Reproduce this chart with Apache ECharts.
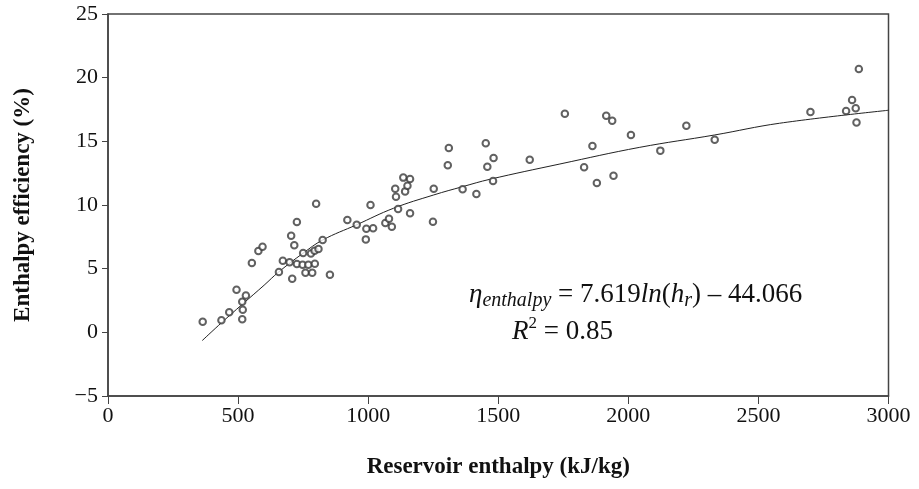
<!DOCTYPE html>
<html>
<head>
<meta charset="utf-8">
<script src="https://cdn.jsdelivr.net/npm/echarts@6/dist/echarts.min.js"></script>
<style>html,body{margin:0;padding:0;background:#fff;}#c{width:919px;height:489px;}</style>
</head>
<body>
<div id="c"></div>
<script>
// Measured data points: reservoir enthalpy (kJ/kg)
const enthalpy = [364,436,466,494,516,518,516,530,553,578,594,
  657,672,698,704,708,716,726,726,748,750,759,770,780,785,794,795,800,809,825,853,
  920,956,991,993,1009,1019,1066,1080,1091,1104,1107,1115,1135,1142,1151,1161,1161,1249,1252,1306,1310,1363,1416,1452,1458,1482,1480,
  1621,1756,1830,1862,1879,1915,1938,1943,2010,2123,2223,2332,2700,2837,2860,2874,2877,2886];
// Enthalpy efficiency (%)
const efficiency = [0.83,0.94,1.57,3.35,1.02,1.78,2.4,2.9,5.44,6.39,6.73,
  4.74,5.63,5.5,7.59,4.2,6.83,8.66,5.37,5.31,6.23,4.68,5.31,6.2,4.68,6.41,5.39,10.1,6.54,7.25,4.53,
  8.82,8.45,7.3,8.14,10.0,8.17,8.59,8.92,8.3,11.28,10.65,9.69,12.15,11.07,11.52,12.04,9.35,8.69,11.28,13.12,14.48,11.23,10.86,14.85,13.0,13.69,11.89,
  13.56,17.17,12.96,14.63,11.73,17.0,16.62,12.3,15.5,14.27,16.23,15.13,17.31,17.38,18.25,17.6,16.47,20.68];
// Trend curve
const trendX = [362,436,516,600,656,749,825,956,1097,1252,1363,1468,1737,2044,2332,2581,3000];
const trendY = [-0.65,0.75,2.2,3.7,4.74,6.2,7.25,8.45,9.74,10.79,11.44,12.02,13.22,14.53,15.5,16.42,17.44];
const xTicks = [0,500,1000,1500,2000,2500,3000];
const yTicks = [-5,0,5,10,15,20,25];

const FONT = 'Liberation Serif';
const chart = echarts.init(document.getElementById('c'));
const scatterData = enthalpy.map((x,i)=>[x, efficiency[i]]);
const lineData = trendX.map((x,i)=>[x, trendY[i]]);
chart.setOption({
  animation:false,
  backgroundColor:'#fff',
  grid:{left:108,right:30.5,top:14,bottom:93,show:true,borderColor:'#444',borderWidth:1.5,backgroundColor:'transparent'},
  xAxis:{type:'value',min:xTicks[0],max:xTicks[xTicks.length-1],interval:500,
    name:'Reservoir enthalpy (kJ/kg)',nameLocation:'middle',nameGap:60,
    nameTextStyle:{fontFamily:FONT,fontSize:23,fontWeight:'bold',color:'#111'},
    axisLine:{show:true,onZero:false,lineStyle:{color:'#444',width:1.5}},
    axisTick:{show:true,inside:false,length:8,lineStyle:{color:'#444',width:1}},
    axisLabel:{fontFamily:FONT,fontSize:22,color:'#111',margin:9,formatter:v=>String(v)},
    splitLine:{show:false}},
  yAxis:{type:'value',min:yTicks[0],max:yTicks[yTicks.length-1],interval:5,
    name:'Enthalpy efficiency (%)',nameLocation:'middle',nameGap:73,
    nameTextStyle:{fontFamily:FONT,fontSize:23,fontWeight:'bold',color:'#111'},
    axisLine:{show:true,onZero:false,lineStyle:{color:'#444',width:1.5}},
    axisTick:{show:true,inside:false,length:6,lineStyle:{color:'#444',width:1}},
    axisLabel:{fontFamily:FONT,fontSize:22,color:'#111',margin:10,
      formatter:v=>String(v).replace('-','\u2212')},
    splitLine:{show:false}},
  series:[
    {type:'scatter',data:scatterData,symbol:'emptyCircle',symbolSize:6.5,
      itemStyle:{color:'#3a3a3a',borderColor:'#3a3a3a',borderWidth:0.7},z:3},
    {type:'line',data:lineData,smooth:0.4,showSymbol:false,symbol:'none',
      lineStyle:{color:'#222',width:1},z:2}
  ],
  graphic:[
    {type:'text',left:469,top:281,z:10,style:{
      text:'{eta|η}{sub|enthalpy}{n| = 7.619}{i|ln}{n|(}{i|h}{sub|r}{n|) – 44.066}',
      fontFamily:FONT,
      rich:{
        eta:{fontFamily:FONT,fontSize:27,fontStyle:'italic',lineHeight:33,verticalAlign:'middle',fill:'#111'},
        n:{fontFamily:FONT,fontSize:27,lineHeight:33,verticalAlign:'middle',fill:'#111'},
        i:{fontFamily:FONT,fontSize:27,fontStyle:'italic',lineHeight:33,verticalAlign:'middle',fill:'#111'},
        sub:{fontFamily:FONT,fontSize:20,fontStyle:'italic',lineHeight:20,verticalAlign:'bottom',fill:'#111'}
      }}},
    {type:'text',left:512,top:315,z:10,style:{
      text:'{i|R}{sup|2}{n| = 0.85}',
      fontFamily:FONT,
      rich:{
        n:{fontFamily:FONT,fontSize:27,lineHeight:33,verticalAlign:'middle',fill:'#111'},
        i:{fontFamily:FONT,fontSize:27,fontStyle:'italic',lineHeight:33,verticalAlign:'middle',fill:'#111'},
        sup:{fontFamily:FONT,fontSize:17,lineHeight:17,verticalAlign:'top',fill:'#111'}
      }}}
  ]
});
</script>
</body>
</html>
